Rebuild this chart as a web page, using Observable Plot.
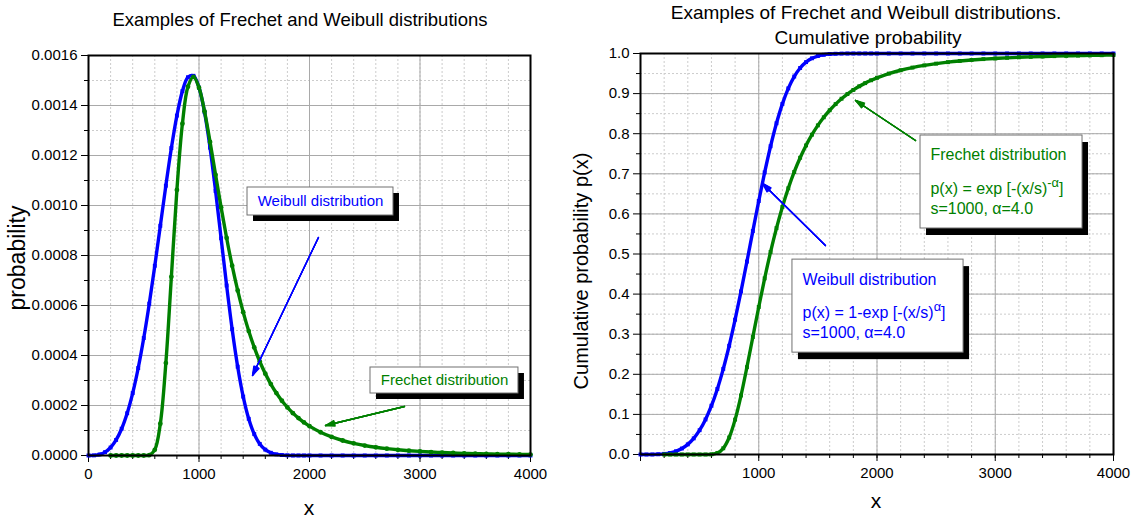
<!DOCTYPE html>
<html><head><meta charset="utf-8">
<script src="https://cdn.jsdelivr.net/npm/d3@7"></script>
<script src="https://cdn.jsdelivr.net/npm/@observablehq/plot@0.6"></script>
<style>
body{margin:0;background:#fff;font-family:"Liberation Sans",Arial,sans-serif;}
#wrap{position:relative;width:1135px;height:525px;overflow:hidden;background:#fff;}
.abs{position:absolute;white-space:nowrap;color:#000;line-height:1;}
</style></head><body><div id="wrap"></div>
<script>
// ---------- data (s=1000, alpha=4) ----------
const xs = [0,50,100,150,200,250,300,350,400,450,500,550,600,650,700,750,800,850,900,950,
  1000,1050,1100,1150,1200,1250,1300,1350,1400,1450,1500,1550,1600,1650,1700,1750,1800,1850,1900,1950,
  2000,2100,2200,2300,2400,2500,2600,2700,2800,2900,3000,3100,3200,3300,3400,3500,3600,3700,3800,3900,4000];

const weibullPdf = [0,0.0000005,0.0000040,0.0000135,0.0000320,0.0000623,0.0001071,0.0001690,0.0002495,0.0003499,
  0.0004697,0.0006073,0.0007590,0.0009189,0.0010792,0.0012298,0.0013597,0.0014575,0.0015130,0.0015188,
  0.0014715,0.0013733,0.0012314,0.0010582,0.0008690,0.0006800,0.0005052,0.0003553,0.0002355,0.0001467,
  0.0000855,0.0000464,0.0000234,0.0000109,0.0000046,0.0000018,0.0000006,0.0000002,0.0000001,0,
  0,0,0,0,0,0,0,0,0,0,0,0,0,0,0,0,0,0,0,0,0];

const frechetPdf = [null,null,null,null,0,0,0,0,0,0,
  0,0.0000014,0.0000229,0.0001272,0.0003696,0.0007148,0.0010625,0.0013274,0.0014754,0.0015144,
  0.0014715,0.0013766,0.0012545,0.0011227,0.0009925,0.0008702,0.0007591,0.0006601,0.0005733,0.0004977,
  0.0004323,0.0003760,0.0003275,0.0002858,0.0002499,0.0002191,0.0001925,0.0001695,0.0001496,0.0001324,
  0.0001174,0.0000930,0.0000744,0.0000600,0.0000487,0.0000399,0.0000329,0.0000274,0.0000229,0.0000192,
  0.0000163,0.0000138,0.0000118,0.0000101,0.0000087,0.0000076,0.0000066,0.0000057,0.0000050,0.0000044,0.0000039];

const weibullCdf = [0,0.0000063,0.0001,0.0005,0.0016,0.0039,0.0081,0.0149,0.0253,0.0402,
  0.0606,0.0874,0.1216,0.1635,0.2135,0.2712,0.3361,0.4067,0.4811,0.5571,
  0.6321,0.7034,0.7687,0.8260,0.8743,0.9130,0.9425,0.9639,0.9785,0.9880,
  0.9937,0.9969,0.9986,0.9994,0.9998,0.9999,1,1,1,1,
  1,1,1,1,1,1,1,1,1,1,1,1,1,1,1,1,1,1,1,1,1];

const frechetCdf = [null,null,null,null,0,0,0,0,0,0,
  0,0.00002,0.00045,0.0037,0.0155,0.0424,0.0870,0.1472,0.2178,0.2930,
  0.3679,0.4392,0.5051,0.5645,0.6174,0.6639,0.7046,0.7400,0.7708,0.7975,
  0.8208,0.8409,0.8585,0.8738,0.8872,0.8989,0.9091,0.9182,0.9261,0.9332,
  0.9394,0.9499,0.9582,0.9649,0.9703,0.9747,0.9784,0.9814,0.9839,0.9860,
  0.9877,0.9892,0.9905,0.9916,0.9925,0.9934,0.9941,0.9947,0.9952,0.9957,0.9961];

// tick values
const leftMajorX = [0,1000,2000,3000,4000];
const leftMinorX = d3.range(0,4001,200);
const leftMajorY = [0,0.0002,0.0004,0.0006,0.0008,0.0010,0.0012,0.0014,0.0016];
const leftMinorY = [0.0001,0.0003,0.0005,0.0007,0.0009,0.0011,0.0013,0.0015];
const rightMajorX = [0,1000,2000,3000,4000];
const rightMinorX = d3.range(0,4001,200);
const rightMajorY = [0,0.1,0.2,0.3,0.4,0.5,0.6,0.7,0.8,0.9,1.0];
const rightMinorY = [0.05,0.15,0.25,0.35,0.45,0.55,0.65,0.75,0.85,0.95];

// annotations
const leftBoxes = [
  {x1:1439,x2:2760,y1:0.00096,y2:0.001072,tx:2100,ty:0.001016,text:"Weibull distribution",c:"blue"},
  {x1:2552,x2:3891,y1:0.000248,y2:0.000352,tx:3222,ty:0.000300,text:"Frechet distribution",c:"green"}
];
const leftArrows = [
  {x1:2081,y1:0.000872,x2:1484,y2:0.00032,c:"blue"},
  {x1:2860,y1:0.000196,x2:2145,y2:0.00012,c:"green"}
];
const rightBoxes = [
  {x1:2368,x2:3738,y1:0.5636,y2:0.7955,c:"green"},
  {x1:1285,x2:2732,y1:0.254,y2:0.486,c:"blue"}
];
const rightTexts = [
  {x:2452,y:0.746,text:"Frechet distribution",c:"green"},
  {x:2452,y:0.663,text:"p(x) = exp [-(x/s)^{-α}]",c:"green"},
  {x:2452,y:0.613,text:"s=1000, α=4.0",c:"green"},
  {x:1370,y:0.436,text:"Weibull distribution",c:"blue"},
  {x:1370,y:0.354,text:"p(x) = 1-exp [-(x/s)^{α}]",c:"blue"},
  {x:1370,y:0.304,text:"s=1000, α=4.0",c:"blue"}
];
const rightArrows = [
  {x1:2326,y1:0.783,x2:1818,y2:0.883,c:"green"},
  {x1:1564,y1:0.521,x2:1032,y2:0.676,c:"blue"}
];

// ---------- styles ----------
const BLUE = "#0000ff", GREEN = "#008000";
const colorOf = c => c === "blue" ? BLUE : GREEN;
const FONT = "Liberation Sans, Arial, sans-serif";
const curve = "catmull-rom";
const fmtInt = d3.format("d");

const rows = ys => xs.map((x,i) => ({x, y: ys[i]})).filter(d => d.y !== null);

function seriesMarks(ys, color, symbol, r) {
  const d = rows(ys);
  return [
    Plot.line(d, {x:"x", y:"y", stroke:color, strokeWidth:3.4, curve}),
    Plot.dot(d, {x:"x", y:"y", fill:color, stroke:"none", symbol, r})
  ];
}

function gridAndAxes(majX, minX, majY, minY, yFmt, xFmt) {
  return [
    Plot.gridX(minX, {stroke:"#cccccc", strokeOpacity:1, strokeDasharray:"2,2"}),
    Plot.gridY(minY.concat(majY), {stroke:"#cccccc", strokeOpacity:1, strokeDasharray:"2,2"}),
    Plot.gridX(majX, {stroke:"#a9a9a9", strokeOpacity:1}),
    Plot.gridY(majY, {stroke:"#a9a9a9", strokeOpacity:1}),
    Plot.axisX(minX, {tickSize:4, fill:"none", label:null, stroke:"black"}),
    Plot.axisY(minY, {tickSize:4, fill:"none", label:null, stroke:"black"}),
    Plot.axisX(majX, {tickSize:7, tickPadding:6, tickFormat:xFmt, fontSize:15, label:null, stroke:"black", fill:"black"}),
    Plot.axisY(majY, {tickSize:7, tickPadding:4, tickFormat:yFmt, fontSize:15, label:null, stroke:"black", fill:"black"})
  ];
}

// arrows with a filled-looking head (several overlapping heads)
function arrowMarks(data) {
  return [35, 26, 17, 8].map(a =>
    Plot.arrow(data, {x1:"x1", y1:"y1", x2:"x2", y2:"y2", stroke: d => colorOf(d.c), strokeWidth:1.3, headLength:11, headAngle:a})
  );
}

function supers(svg) {
  const ns = "http://www.w3.org/2000/svg";
  svg.querySelectorAll("text").forEach(t => {
    const s = t.textContent;
    const m = s.match(/^(.*)\^\{(.*)\}(.*)$/);
    if (!m) return;
    while (t.firstChild) t.removeChild(t.firstChild);
    t.appendChild(document.createTextNode(m[1]));
    const sp = document.createElementNS(ns, "tspan");
    sp.setAttribute("dy", "-0.55em"); sp.setAttribute("font-size", "0.8em");
    sp.textContent = m[2]; t.appendChild(sp);
    const rest = document.createElementNS(ns, "tspan");
    rest.setAttribute("dy", "0.44em"); rest.textContent = m[3]; t.appendChild(rest);
  });
}

const wrap = document.getElementById("wrap");
function place(el, left, top) {
  const d = document.createElement("div");
  d.style.position = "absolute"; d.style.left = left + "px"; d.style.top = top + "px";
  d.appendChild(el); wrap.appendChild(d);
}
function label(text, cx, cy, size, rot) {
  const d = document.createElement("div");
  d.className = "abs"; d.textContent = text;
  d.style.left = cx + "px"; d.style.top = cy + "px"; d.style.fontSize = size + "px";
  d.style.transform = "translate(-50%,-50%)" + (rot ? " rotate(-90deg)" : "");
  wrap.appendChild(d);
}

// ---------- left chart ----------
const left = Plot.plot({
  width: 560, height: 525,
  marginLeft: 88, marginRight: 30, marginTop: 55, marginBottom: 70,
  style: {fontFamily: FONT, fontSize: "15px", background: "transparent", overflow: "visible", color: "black"},
  x: {domain: [0, 4000]},
  y: {domain: [0, 0.0016]},
  marks: [
    ...gridAndAxes(leftMajorX, leftMinorX, leftMajorY, leftMinorY, d3.format(".4f"), fmtInt),
    ...seriesMarks(weibullPdf, BLUE, "square", 2.2),
    ...seriesMarks(frechetPdf, GREEN, "circle", 2.4),
    Plot.frame({stroke: "black", strokeWidth: 2}),
    Plot.rect(leftBoxes, {x1:"x1", x2:"x2", y1:"y1", y2:"y2", fill:"black", dx:6, dy:6}),
    Plot.rect(leftBoxes, {x1:"x1", x2:"x2", y1:"y1", y2:"y2", fill:"white", stroke:"#707070", strokeWidth:1}),
    Plot.text(leftBoxes, {x:"tx", y:"ty", text:"text", fill: d => colorOf(d.c), fontSize:15}),
    ...arrowMarks(leftArrows)
  ]
});
place(left, 0, 0);

// ---------- right chart ----------
const right = Plot.plot({
  width: 575, height: 525,
  marginLeft: 80, marginRight: 22, marginTop: 53, marginBottom: 71,
  style: {fontFamily: FONT, fontSize: "15px", background: "transparent", overflow: "visible", color: "black"},
  x: {domain: [0, 4000]},
  y: {domain: [0, 1]},
  marks: [
    ...gridAndAxes(rightMajorX, rightMinorX, rightMajorY, rightMinorY, d3.format(".1f"), d => d === 0 ? "" : fmtInt(d)),
    ...seriesMarks(weibullCdf, BLUE, "square", 2.2),
    ...seriesMarks(frechetCdf, GREEN, "square", 2.2),
    Plot.frame({stroke: "black", strokeWidth: 2}),
    Plot.rect(rightBoxes, {x1:"x1", x2:"x2", y1:"y1", y2:"y2", fill:"black", dx:6, dy:7}),
    Plot.rect(rightBoxes, {x1:"x1", x2:"x2", y1:"y1", y2:"y2", fill:"white", stroke:"#707070", strokeWidth:1}),
    Plot.text(rightTexts, {x:"x", y:"y", text:"text", textAnchor:"start", fill: d => colorOf(d.c), fontSize:16}),
    ...arrowMarks(rightArrows)
  ]
});
supers(right);
place(right, 560, 0);

// ---------- titles & axis labels ----------
label("Examples of Frechet and Weibull distributions", 300, 20, 18.5, false);
label("Examples of Frechet and Weibull distributions.", 866, 12, 19, false);
label("Cumulative probability", 868, 37, 19, false);
label("probability", 17, 258, 23, true);
label("Cumulative probability p(x)", 581, 271, 20, true);
label("x", 309, 507, 21, false);
label("x", 876, 500, 21, false);
</script></body></html>
